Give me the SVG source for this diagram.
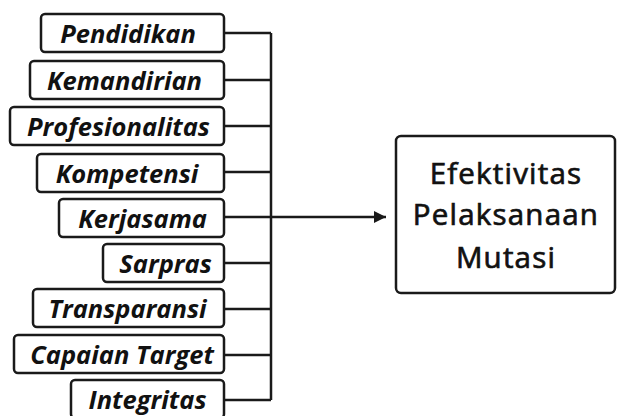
<svg xmlns="http://www.w3.org/2000/svg" width="618" height="416" viewBox="0 0 618 416">
<style>
.box{fill:#fff;stroke:#1a1a1a;stroke-width:2.5}
.lbl{font-family:"Open Sans","Noto Sans",sans-serif;font-weight:bold;font-style:italic;font-size:25.5px;fill:#111;text-anchor:middle}
.big{font-family:"Open Sans","Noto Sans",sans-serif;font-weight:normal;font-size:29.5px;letter-spacing:1.2px;fill:#111;stroke:#111;stroke-width:0.7px;text-anchor:middle}
.ln{stroke:#1a1a1a;stroke-width:2.5;fill:none}
</style>
<defs>
<marker id="ah" markerWidth="12" markerHeight="12" refX="12" refY="6" orient="auto" markerUnits="userSpaceOnUse">
<path d="M0,0 L12,6 L0,12 Z" fill="#1a1a1a"/>
</marker>
</defs>
<rect width="618" height="416" fill="#fff"/>
<g id="connectors">
<path class="ln" d="M271,33 V400"/>
<path class="ln" d="M224,33 H271 M224,80 H271 M224,126 H271 M224,172 H271 M224,263 H271 M224,309 H271 M224,355 H271 M224,400 H271"/>
<path class="ln" d="M224,217 H386" marker-end="url(#ah)"/>
</g>
<g id="n1"><rect class="box" x="41" y="14" width="183" height="38" rx="4"/><text class="lbl" x="128" y="43">Pendidikan</text></g>
<g id="n2"><rect class="box" x="30" y="61" width="194" height="38" rx="4"/><text class="lbl" x="124.5" y="90">Kemandirian</text></g>
<g id="n3"><rect class="box" x="10" y="107" width="214" height="38" rx="4"/><text class="lbl" x="118.5" y="136">Profesionalitas</text></g>
<g id="n4"><rect class="box" x="37" y="154" width="187" height="38" rx="4"/><text class="lbl" x="127" y="183">Kompetensi</text></g>
<g id="n5"><rect class="box" x="59" y="199" width="165" height="38" rx="4"/><text class="lbl" x="142.5" y="228">Kerjasama</text></g>
<g id="n6"><rect class="box" x="103" y="244" width="121" height="38" rx="4"/><text class="lbl" x="165.5" y="273">Sarpras</text></g>
<g id="n7"><rect class="box" x="33" y="289" width="191" height="38" rx="4"/><text class="lbl" x="127.5" y="318">Transparansi</text></g>
<g id="n8"><rect class="box" x="14" y="335" width="210" height="38" rx="4"/><text class="lbl" x="122" y="364">Capaian Target</text></g>
<g id="n9"><rect class="box" x="71" y="380" width="153" height="38" rx="4"/><text class="lbl" x="147.5" y="409">Integritas</text></g>
<g id="target"><rect class="box" x="396" y="136" width="219" height="157" rx="5"/>
<text class="big" x="506" y="183.5">Efektivitas</text>
<text class="big" x="506" y="225">Pelaksanaan</text>
<text class="big" x="506" y="267.5">Mutasi</text></g>
</svg>
